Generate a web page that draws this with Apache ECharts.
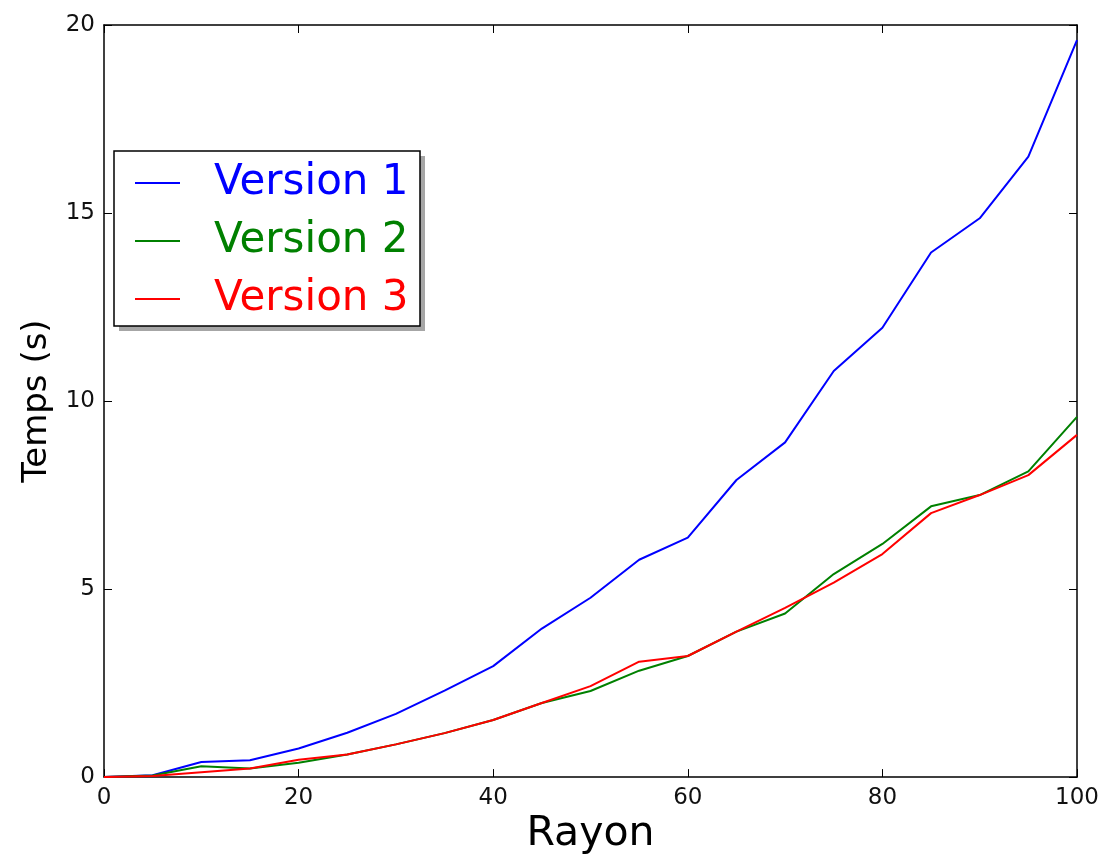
<!DOCTYPE html>
<html><head><meta charset="utf-8">
<script src="https://cdn.jsdelivr.net/npm/echarts@6/dist/echarts.min.js"></script>
<style>html,body{margin:0;padding:0;background:#fff;overflow:hidden}#c{width:1103px;height:860px}</style>
</head><body><div id="c"></div>
<script>
const rayon = [0,5,10,15,20,25,30,35,40,45,50,55,60,65,70,75,80,85,90,95,100];
const version1 = [0,0.05,0.4,0.45,0.76,1.18,1.68,2.3,2.95,3.95,4.77,5.78,6.37,7.9,8.9,10.8,11.95,13.95,14.86,16.5,19.6];
const version2 = [0,0.04,0.29,0.23,0.38,0.6,0.87,1.17,1.52,1.97,2.29,2.83,3.22,3.87,4.35,5.4,6.2,7.2,7.5,8.13,9.58];
const version3 = [0,0.03,0.13,0.23,0.46,0.6,0.87,1.17,1.52,1.97,2.42,3.07,3.22,3.87,4.5,5.17,5.93,7.02,7.5,8.03,9.1];
const seriesNames = ['Version 1','Version 2','Version 3'];
const colors = ['#0000ff','#008000','#ff0000'];

const font = 'DejaVu Sans';
const chart = echarts.init(document.getElementById('c'));
const pairs = v => rayon.map((x,i)=>[x,v[i]]);
const axisLine = {show:true,onZero:false,lineStyle:{color:'#000',width:1.5}};
const tick = {show:true,inside:true,length:8,lineStyle:{color:'#000',width:1}};
chart.setOption({
  animation:false,
  backgroundColor:'#fff',
  grid:{left:104,right:26,top:25,bottom:79},
  xAxis:[{type:'value',min:0,max:100,interval:20,position:'bottom',
    axisLine:axisLine,axisTick:tick,splitLine:{show:false},
    axisLabel:{color:'#111',fontFamily:font,fontSize:23,margin:9},
    name:'Rayon',nameLocation:'middle',nameGap:33,
    nameTextStyle:{color:'#000',fontFamily:font,fontSize:41}},
   {type:'value',min:0,max:100,interval:20,position:'top',
    axisLine:axisLine,axisTick:tick,splitLine:{show:false},axisLabel:{show:false}}],
  yAxis:[{type:'value',min:0,max:20,interval:5,position:'left',
    axisLine:axisLine,axisTick:tick,splitLine:{show:false},
    axisLabel:{color:'#111',fontFamily:font,fontSize:23,margin:9},
    name:'Temps (s)',nameLocation:'middle',nameGap:50,nameRotate:90,
    nameTextStyle:{color:'#000',fontFamily:font,fontSize:34}},
   {type:'value',min:0,max:20,interval:5,position:'right',
    axisLine:axisLine,axisTick:tick,splitLine:{show:false},axisLabel:{show:false}}],
  graphic:[
    {type:'rect',z:20,shape:{x:119,y:156,width:306,height:175},style:{fill:'rgba(0,0,0,0.35)'}},
    {type:'rect',z:21,shape:{x:114,y:151,width:306,height:175},style:{fill:'#fff',stroke:'#000',lineWidth:1.5}}
  ],
  legend:{
    orient:'vertical',left:135,top:161,z:30,
    data:seriesNames.map((n,i)=>({name:n,textStyle:{color:colors[i]}})),
    icon:'rect',itemWidth:45,itemHeight:2,itemGap:14,
    textStyle:{fontFamily:font,fontSize:42,lineHeight:44,padding:[0,0,0,29]},
    padding:0
  },
  series:[version1,version2,version3].map((v,i)=>({
    name:seriesNames[i],type:'line',data:pairs(v),xAxisIndex:0,yAxisIndex:0,
    symbol:'none',lineStyle:{color:colors[i],width:2},itemStyle:{color:colors[i]},z:3
  }))
});
</script></body></html>
